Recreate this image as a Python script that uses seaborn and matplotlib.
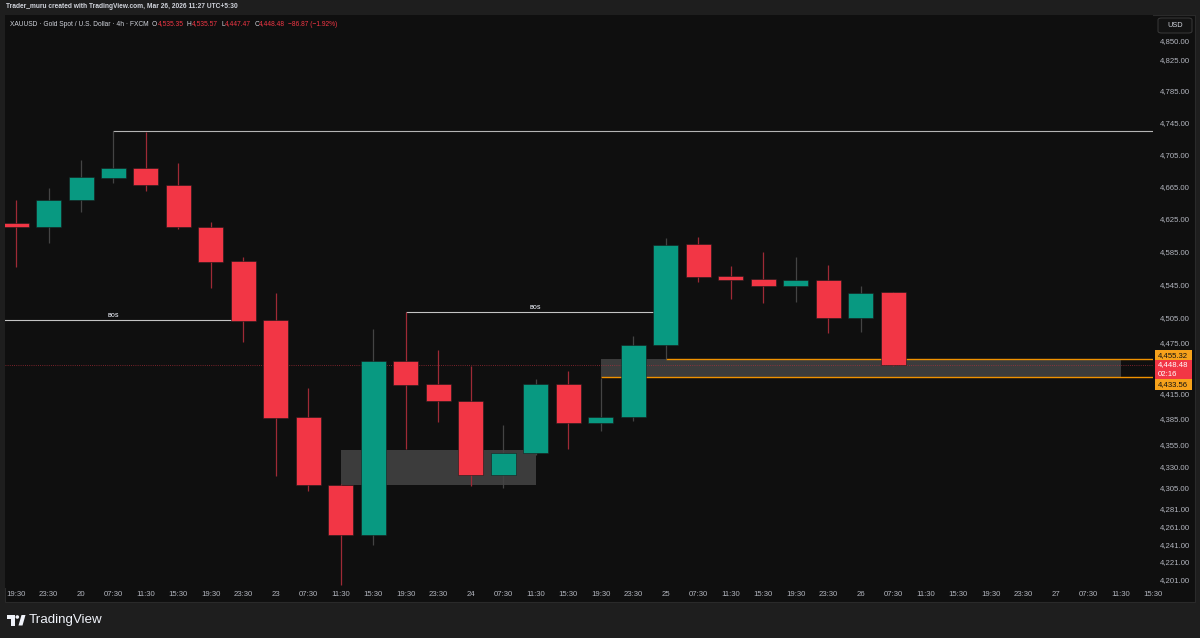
import numpy as np
import pandas as pd
import seaborn as sns
import matplotlib.pyplot as plt
import matplotlib.patches as mpatches
from matplotlib.ticker import FixedLocator, NullLocator, FuncFormatter, NullFormatter

# XAUUSD 4h candles (FXCM)
time_labels = ["19:30", "23:30", "20", "07:30", "11:30", "15:30", "19:30", "23:30",
               "23", "07:30", "11:30", "15:30", "19:30", "23:30", "24", "07:30",
               "11:30", "15:30", "19:30", "23:30", "25", "07:30", "11:30", "15:30",
               "19:30", "23:30", "26", "07:30", "11:30", "15:30", "19:30", "23:30",
               "27", "07:30", "11:30", "15:30"]
opens = [4619.3, 4615.1, 4647.6, 4675.7, 4687.5, 4667.0, 4614.8, 4572.7,
         4501.9, 4386.7, 4308.3, 4251.4, 4452.9, 4425.4, 4405.7, 4320.2,
         4345.5, 4425.4, 4379.7, 4387.1, 4472.0, 4593.5, 4555.0, 4551.0,
         4542.8, 4550.1, 4504.6, 4535.35]
highs = [4648.0, 4662.6, 4697.8, 4734.3, 4733.0, 4694.5, 4621.3, 4577.7,
         4534.7, 4420.7, 4309.0, 4491.1, 4511.5, 4466.0, 4447.1, 4377.8,
         4431.3, 4441.1, 4432.5, 4482.8, 4600.9, 4602.2, 4567.0, 4584.1,
         4578.4, 4567.9, 4542.8, 4535.57]
lows = [4566.2, 4595.5, 4633.6, 4669.5, 4659.2, 4611.9, 4540.0, 4475.9,
        4319.0, 4301.4, 4195.0, 4240.0, 4349.8, 4381.6, 4307.2, 4304.5,
        4342.9, 4349.8, 4370.7, 4382.8, 4455.32, 4548.0, 4526.8, 4521.9,
        4524.0, 4486.0, 4487.9, 4447.47]
closes = [4615.1, 4648.0, 4676.6, 4687.5, 4666.3, 4614.4, 4571.9, 4501.0,
          4386.2, 4308.0, 4251.4, 4452.9, 4424.6, 4405.4, 4320.2, 4345.5,
          4425.4, 4379.7, 4387.1, 4472.0, 4593.0, 4554.1, 4550.1, 4542.8,
          4550.1, 4504.6, 4534.7, 4448.48]

price_ticks = [4850, 4825, 4785, 4745, 4705, 4665, 4625, 4585, 4545, 4505, 4475,
               4415, 4385, 4355, 4330, 4305, 4281, 4261, 4241, 4221, 4201]

last_price = 4448.48
countdown = "02:16"
zone_top = 4455.32
zone_bottom = 4433.56
swing_high = 4734.3
bos_levels = [4501.9, 4511.5]
bos_spans = [(-1, 7), (12, 20)]
demand_box = (10, 16, 4308.6, 4348.7)

UP, DOWN, ORANGE = "#089981", "#f23645", "#f7a21b"
W, H = 1200, 638


def fx(px):
    return px / W


def fy(py):
    return 1 - py / H


sns.set_theme(style="dark")
plt.rcParams["font.family"] = ["Liberation Sans", "DejaVu Sans"]

df = pd.DataFrame({"open": opens, "high": highs, "low": lows, "close": closes})
df["idx"] = np.arange(len(df))
df["up"] = df["close"] >= df["open"]

fig = plt.figure(figsize=(12, 6.38), dpi=100, facecolor="#1e1e1e")
# chart panel
fig.patches.append(mpatches.Rectangle((fx(5), fy(602)), fx(1190), 587 / H, transform=fig.transFigure,
                                      facecolor="#0f0f0f", edgecolor="#2a2a2a", lw=0.8, zorder=-1))

ax = fig.add_axes([fx(5), fy(588), fx(1148), 573 / H])
ax.set_facecolor("#0f0f0f")
ax.set_yscale("log")
ax.set_xlim(-0.34, 34.88)
ax.set_ylim(4191.8, 4882.8)
ax.grid(False)
for s in ax.spines.values():
    s.set_visible(False)

# zones
x0, x1, b0, b1 = demand_box
ax.fill_between([x0, x1], b0, b1, color="#3c3c3c", lw=0, zorder=1)
ax.fill_between([18, 34], zone_bottom, zone_top, color="#3c3c3c", lw=0, zorder=1)
ax.hlines(zone_top, 20, 36, color="#f09200", lw=1.0, zorder=1.5)
ax.hlines(zone_bottom, 18, 36, color="#f09200", lw=1.0, zorder=1.5)

# structure lines
ax.hlines(swing_high, 3, 36, color="#b5b5b5", lw=0.8, zorder=1.5)
for lvl, (a, b) in zip(bos_levels, bos_spans):
    ax.hlines(lvl, a, b, color="#c4c4c4", lw=0.8, zorder=1.5)
    ax.annotate("BOS", xy=((a + b) / 2, lvl), xytext=(0, 1.2), textcoords="offset points",
                ha="center", va="bottom", fontsize=3.8, color="#d1d4dc", fontweight="bold")

ax.axhline(last_price, color="#c0303d", lw=0.6, ls=(0, (1, 1.6)), alpha=0.8, zorder=1.2)

# candles
wick_cols = np.where(df["up"], "#444444", "#9e2a36")
ax.vlines(df["idx"], df["low"], df["high"], colors=wick_cols, lw=0.9, zorder=2)
body_lo = np.minimum(df["open"], df["close"])
body_h = np.maximum(np.abs(df["close"] - df["open"]), 0.8)
ax.bar(df["idx"], body_h, bottom=body_lo, width=0.77,
       color=np.where(df["up"], UP, DOWN), edgecolor="#1a1a1a", linewidth=0.4, zorder=3)

# axes ticks
ax.yaxis.tick_right()
ax.yaxis.set_major_locator(FixedLocator(price_ticks))
ax.yaxis.set_minor_locator(NullLocator())
ax.yaxis.set_minor_formatter(NullFormatter())
ax.yaxis.set_major_formatter(FuncFormatter(lambda v, p: f"{v:,.2f}"))
ax.tick_params(axis="y", length=0, pad=5, labelsize=5.6, labelcolor="#b2b5be")
ax.set_xticks(range(len(time_labels)))
ax.set_xticklabels(time_labels)
ax.tick_params(axis="x", length=0, pad=2.5, labelsize=5.6, labelcolor="#b2b5be")
ax.set_xlabel("")
ax.set_ylabel("")


# price tags on the scale, placed in pixels from the price's screen position
def price_px(p):
    return H - ax.transData.transform((0, p))[1]


def tag(price, lines, fc, tc, dy_top, height):
    py = price_px(price)
    top = py + dy_top
    fig.patches.append(mpatches.Rectangle((fx(1155), fy(top + height)), fx(37), height / H,
                                          transform=fig.transFigure, fc=fc, ec="none", zorder=4))
    step = height / len(lines)
    for k, s in enumerate(lines):
        fig.text(fx(1158), fy(top + step * (k + 0.5) + 0.3), s, fontsize=5.6, color=tc,
                 va="center", ha="left", zorder=5)


tag(zone_top, [f"{zone_top:,.2f}"], ORANGE, "#131313", -9.5, 11)
tag(zone_bottom, [f"{zone_bottom:,.2f}"], ORANGE, "#131313", 1.5, 11)
tag(last_price, [f"{last_price:,.2f}", countdown], DOWN, "#ffffff", -5, 19)

# USD badge
fig.patches.append(mpatches.FancyBboxPatch((fx(1158), fy(33)), fx(34), 15 / H,
                                           boxstyle="round,pad=0,rounding_size=0.003",
                                           transform=fig.transFigure, fc="#131313", ec="#3a3a3a", lw=0.7))
fig.text(fx(1167), fy(25.5), "USD", fontsize=5.3, color="#d1d4dc", va="center", ha="left")

# header texts
fig.text(fx(6), fy(7), "Trader_muru created with TradingView.com, Mar 26, 2026 11:27 UTC+5:30",
         fontsize=4.8, color="#d1d4dc", va="center", ha="left", fontweight="bold")

renderer = fig.canvas.get_renderer()
pieces = [("XAUUSD · Gold Spot / U.S. Dollar · 4h · FXCM", "#d1d4dc", 3.5),
          ("O", "#d1d4dc", 0), ("4,535.35", DOWN, 3.5),
          ("H", "#d1d4dc", 0), ("4,535.57", DOWN, 3.5),
          ("L", "#d1d4dc", 0), ("4,447.47", DOWN, 3.5),
          ("C", "#d1d4dc", 0), ("4,448.48", DOWN, 3.5),
          ("−86.87 (−1.92%)", DOWN, 0)]
xp = 10
for s, c, gap in pieces:
    t = fig.text(fx(xp), fy(24), s, fontsize=4.8, color=c, va="center", ha="left")
    xp += t.get_window_extent(renderer).width + gap

# footer logo
logo_c = "#f0f3fa"
fig.patches.append(mpatches.Rectangle((fx(7), fy(618.5)), fx(7.5), 3.5 / H, transform=fig.transFigure,
                                      fc=logo_c, ec="none"))
fig.patches.append(mpatches.Rectangle((fx(10.5), fy(625.5)), fx(4), 10.5 / H, transform=fig.transFigure,
                                      fc=logo_c, ec="none"))
fig.patches.append(mpatches.Ellipse((fx(17.3), fy(617)), fx(3.6), 3.6 / H, transform=fig.transFigure,
                                    fc=logo_c, ec="none"))
fig.patches.append(mpatches.Polygon([(fx(18.5), fy(625.5)), (fx(22.5), fy(625.5)), (fx(25.5), fy(615)),
                                     (fx(21.5), fy(615))], closed=True, transform=fig.transFigure,
                                    fc=logo_c, ec="none"))
fig.text(fx(29), fy(620), "TradingView", fontsize=9.6, color=logo_c, va="center", ha="left")

fig.savefig("out.png", dpi=100, facecolor=fig.get_facecolor())
